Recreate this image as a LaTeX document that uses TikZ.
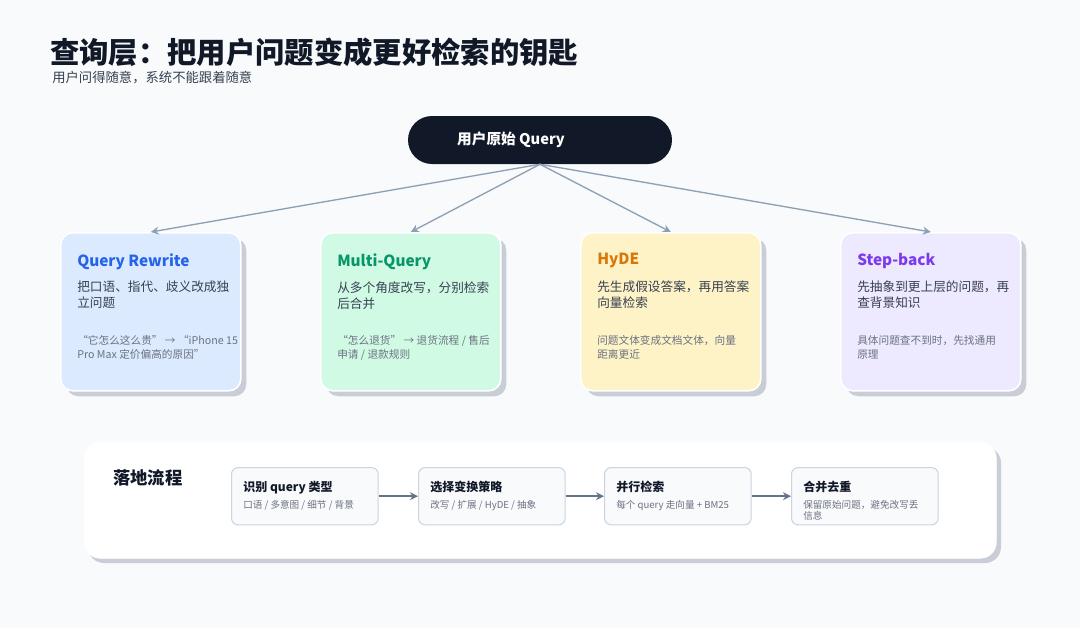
\documentclass[tikz,border=0pt]{standalone}
\usepackage{fontspec}
\setmainfont{Noto Sans CJK SC}
\usetikzlibrary{arrows.meta,positioning}
\definecolor{bgc}{HTML}{F8FAFC}
\definecolor{ink}{HTML}{111827}
\definecolor{txt}{HTML}{374151}
\definecolor{mut}{HTML}{6B7280}
\definecolor{lnk}{HTML}{8FA0B5}
\definecolor{shd}{HTML}{C9CED6}
\definecolor{bluef}{HTML}{DBEAFE}\definecolor{bluet}{HTML}{2563EB}
\definecolor{greenf}{HTML}{D1FAE5}\definecolor{greent}{HTML}{059669}
\definecolor{yellowf}{HTML}{FEF3C7}\definecolor{yellowt}{HTML}{D97706}
\definecolor{purplef}{HTML}{EDE9FE}\definecolor{purplet}{HTML}{7C3AED}
\definecolor{stepf}{HTML}{F8FAFC}\definecolor{stepd}{HTML}{CBD5E1}
\definecolor{flow}{HTML}{64748B}
\tikzset{%
	card/.style     = {draw=white, line width=1.2pt, rounded corners=9pt, minimum width=135pt, minimum height=118.5pt, anchor=north west},
	shadow/.style   = {fill=shd, rounded corners=9pt, minimum width=135pt, minimum height=118.5pt, anchor=north west},
	ctitle/.style   = {anchor=north west, inner sep=0pt, font=\bfseries\fontsize{11.5}{14}\selectfont},
	cdesc/.style    = {anchor=north west, inner sep=0pt, align=left, text=txt, font=\fontsize{9.5}{12}\selectfont},
	cnote/.style    = {anchor=north west, inner sep=0pt, align=left, text=mut, font=\fontsize{8}{10.5}\selectfont},
	link/.style     = {draw=lnk, line width=1pt, -{Stealth[length=6pt,width=6pt]}},
	stepbox/.style  = {draw=stepd, fill=stepf, line width=0.8pt, rounded corners=5pt, minimum width=110pt, minimum height=43pt, anchor=north west},
	stitle/.style   = {anchor=north west, inner sep=0pt, font=\bfseries\fontsize{9}{11}\selectfont, text=ink},
	snote/.style    = {anchor=north west, inner sep=0pt, align=left, text=mut, font=\fontsize{7.2}{8}\selectfont},
	flowarrow/.style= {draw=flow, line width=1.6pt, -{Stealth[length=6pt,width=6pt]}},
}
\begin{document}
\begin{tikzpicture}[x=0.75pt,y=-0.75pt]
	\fill[bgc] (0,0) rectangle (1080,628);
	\useasboundingbox (0,0) rectangle (1080,628);
	% title
	\node[anchor=west, inner sep=0pt, text=ink, font=\bfseries\fontsize{22}{25}\selectfont] (title) at (50,52) {查询层：把用户问题变成更好检索的钥匙};
	\node[anchor=west, inner sep=0pt, text=txt, font=\fontsize{10}{12}\selectfont] (sub) at (52,78) {用户问得随意，系统不能跟着随意};
	% root
	\node[fill=ink, rounded corners=18pt, minimum width=198pt, minimum height=36pt] (root) at (540,140) {};
	\node[text=white, font=\bfseries\fontsize{11}{13}\selectfont] (rootl) at (511,140) {用户原始 Query};
	% cards
	\foreach \x/\nm/\fc/\tc/\t/\d/\n in {%
		60/rw/bluef/bluet/Query Rewrite/{把口语、指代、歧义改成独\\立问题}/{“它怎么这么贵” → “iPhone 15\\ Pro Max 定价偏高的原因”},
		320/mq/greenf/greent/Multi-Query/{从多个角度改写，分别检索\\后合并}/{“怎么退货” → 退货流程 / 售后\\申请 / 退款规则},
		580/hy/yellowf/yellowt/HyDE/{先生成假设答案，再用答案\\向量检索}/{问题文体变成文档文体，向量\\距离更近},
		840/sb/purplef/purplet/Step-back/{先抽象到更上层的问题，再\\查背景知识}/{具体问题查不到时，先找通用\\原理}}{
		\node[shadow] at (\x+6,238) {};
		\node[card, fill=\fc] (\nm) at (\x,232) {};
		\node[ctitle, text=\tc] (\nm t) at (\x+17,253) {\t};
		\node[cdesc] (\nm d) at (\x+17,281) {\d};
		\node[cnote] (\nm n) at (\x+17,335) {\n};
	}
	\draw[link] (root.south) -- (rw.north);
	\draw[link] (root.south) -- (mq.north);
	\draw[link] (root.south) -- (hy.north);
	\draw[link] (root.south) -- (sb.north);
	% flow panel
	\fill[shd, rounded corners=12pt] (88,447) rectangle (1001,563);
	\node[draw=white, fill=white, rounded corners=12pt, minimum width=684pt, minimum height=87pt, anchor=north west] (panel) at (84,442) {};
	\node[anchor=west, inner sep=0pt, text=ink, font=\bfseries\fontsize{13}{15}\selectfont] (land) at (113,478) {落地流程};
	\foreach \x/\nm/\t/\n in {%
		231/s1/识别 query 类型/{口语 / 多意图 / 细节 / 背景},
		418/s2/选择变换策略/{改写 / 扩展 / HyDE / 抽象},
		604/s3/并行检索/{每个 query 走向量 + BM25},
		791/s4/合并去重/{保留原始问题，避免改写丢\\信息}}{
		\node[stepbox] (\nm) at (\x,467) {};
		\node[stitle] (\nm t) at (\x+12,481) {\t};
		\node[snote] (\nm n) at (\x+12,500) {\n};
	}
	\draw[flowarrow] (s1) -- (s2);
	\draw[flowarrow] (s2) -- (s3);
	\draw[flowarrow] (s3) -- (s4);
\end{tikzpicture}
\end{document}
